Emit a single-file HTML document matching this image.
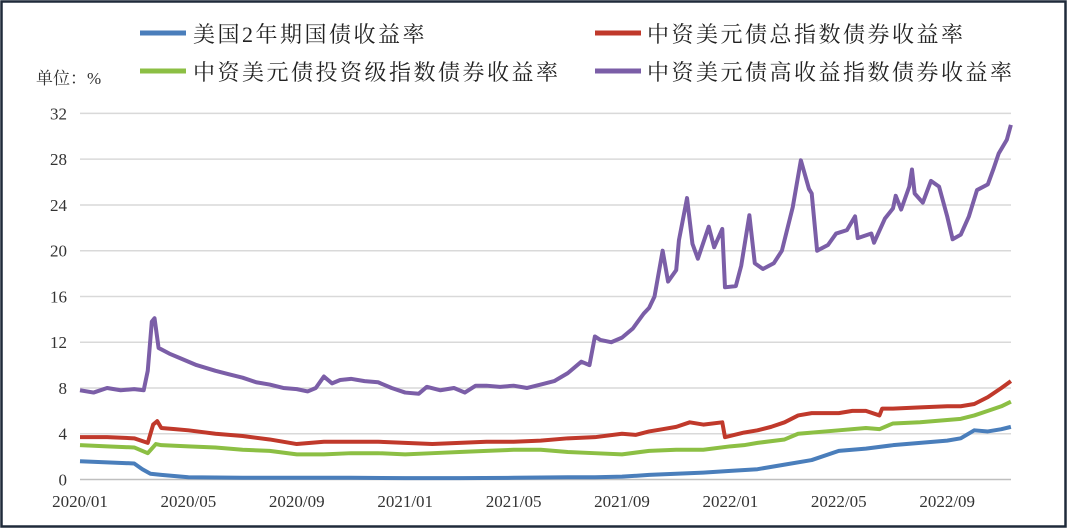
<!DOCTYPE html>
<html><head><meta charset="utf-8">
<style>
body{margin:0;background:#fff;}
svg{display:block;font-family:"Liberation Serif","Noto Serif CJK SC",serif;}
.lg{letter-spacing:2.5px;}
</style></head>
<body>
<svg id="chart" width="1068" height="529" viewBox="0 0 1068 529">
<rect x="1.5" y="1.5" width="1064" height="525" fill="#fff" stroke="#1f2a3a" stroke-width="2.5"/>
<g id="legend">
 <g><line x1="140" y1="33" x2="186" y2="33" stroke="#4a7ebb" stroke-width="5"/><text class="lg" x="193" y="42" font-size="22" fill="#222">美国2年期国债收益率</text></g>
 <g><line x1="595" y1="33" x2="641" y2="33" stroke="#c0392b" stroke-width="5"/><text class="lg" x="647" y="42" font-size="22" fill="#222">中资美元债总指数债券收益率</text></g>
 <g><line x1="140" y1="71" x2="186" y2="71" stroke="#8cbf44" stroke-width="5"/><text class="lg" x="193" y="80" font-size="22" fill="#222">中资美元债投资级指数债券收益率</text></g>
 <g><line x1="595" y1="71" x2="641" y2="71" stroke="#7b5ea7" stroke-width="5"/><text class="lg" x="647" y="80" font-size="22" fill="#222">中资美元债高收益指数债券收益率</text></g>
</g>
<text x="36" y="84" font-size="17" fill="#333">单位：%</text>
<g id="grid"></g><g id="yt"></g><g id="xt"></g><g id="series"></g>
</svg>
<script>
const yTicks=[0,4,8,12,16,20,24,28,32];
const xLabels=["2020/01","2020/05","2020/09","2021/01","2021/05","2021/09","2022/01","2022/05","2022/09"];
const xLabelMonths=[0,4,8,12,16,20,24,28,32];
const hyM=[0,.5,1,1.5,2,2.35,2.5,2.65,2.75,2.9,3.3,3.7,4.3,5,5.5,6,6.5,7,7.5,8,8.4,8.7,9,9.3,9.6,10,10.5,11,11.5,12,12.5,12.8,13.3,13.8,14.2,14.6,15,15.5,16,16.5,17,17.5,18,18.5,18.8,19,19.2,19.6,20,20.4,20.8,21,21.2,21.5,21.7,22,22.1,22.4,22.6,22.8,23.2,23.4,23.7,23.8,24.2,24.4,24.7,24.9,25.2,25.6,25.9,26.3,26.6,26.9,27,27.2,27.6,27.9,28.3,28.6,28.7,29.2,29.3,29.7,30,30.1,30.3,30.6,30.7,30.8,31.1,31.4,31.7,32,32.2,32.5,32.8,33.1,33.5,33.7,33.9,34.2,34.35];
const hyV=[7.8,7.6,8,7.8,7.9,7.8,9.5,13.8,14.1,11.5,11,10.6,10,9.5,9.2,8.9,8.5,8.3,8,7.9,7.7,8,9,8.4,8.7,8.8,8.6,8.5,8,7.6,7.5,8.1,7.8,8,7.6,8.2,8.2,8.1,8.2,8,8.3,8.6,9.3,10.3,10,12.5,12.2,12,12.4,13.2,14.5,15,16,20,17.3,18.3,20.9,24.6,20.6,19.3,22.1,20.3,21.9,16.8,16.9,18.7,23.1,18.9,18.4,18.9,20,23.8,27.9,25.4,25,20,20.5,21.5,21.8,23,21.1,21.5,20.7,22.8,23.7,24.8,23.6,25.6,27.1,25,24.2,26.1,25.6,23,21,21.4,23,25.3,25.8,27.1,28.5,29.7,31];
const totM=[0,1,2,2.5,2.7,2.85,3,3.5,4,5,6,7,8,9,10,11,12,13,14,15,16,17,18,19,20,20.5,21,21.5,22,22.5,23,23.7,23.8,24.5,25,25.5,26,26.5,27,28,28.5,29,29.5,29.6,30,31,32,32.5,33,33.5,34,34.35];
const totV=[3.7,3.7,3.6,3.2,4.8,5.1,4.5,4.4,4.3,4,3.8,3.5,3.1,3.3,3.3,3.3,3.2,3.1,3.2,3.3,3.3,3.4,3.6,3.7,4,3.9,4.2,4.4,4.6,5,4.8,5,3.7,4.1,4.3,4.6,5,5.6,5.8,5.8,6,6,5.6,6.2,6.2,6.3,6.4,6.4,6.6,7.2,8,8.6];
const igM=[0,1,2,2.5,2.8,3,4,5,6,7,8,9,10,11,12,13,14,15,16,17,18,19,20,21,22,23,24,24.5,25,26,26.5,27,28,29,29.5,30,31,32,32.5,33,33.5,34,34.35];
const igV=[3,2.9,2.8,2.3,3.1,3,2.9,2.8,2.6,2.5,2.2,2.2,2.3,2.3,2.2,2.3,2.4,2.5,2.6,2.6,2.4,2.3,2.2,2.5,2.6,2.6,2.9,3,3.2,3.5,4,4.1,4.3,4.5,4.4,4.9,5,5.2,5.3,5.6,6,6.4,6.8];
const usM=[0,1,2,2.3,2.6,3,4,6,8,10,12,14,16,18,19,20,21,22,23,24,25,26,27,28,29,30,31,32,32.5,33,33.5,34,34.35];
const usV=[1.6,1.5,1.4,0.9,0.5,0.4,0.2,0.15,0.15,0.15,0.12,0.12,0.15,0.2,0.2,0.25,0.4,0.5,0.6,0.75,0.9,1.3,1.7,2.5,2.7,3,3.2,3.4,3.6,4.3,4.2,4.4,4.6];
const X=m=>80+m*27.1, Y=v=>479.5-v*11.44;
const NS="http://www.w3.org/2000/svg";
const g=document.getElementById('grid'),yt=document.getElementById('yt'),xt=document.getElementById('xt'),sg=document.getElementById('series');
yTicks.forEach(v=>{
 const l=document.createElementNS(NS,'line');
 
 
 l.setAttribute('x1',80);l.setAttribute('x2',1011);l.setAttribute('y1',Y(v));l.setAttribute('y2',Y(v));
 l.setAttribute('stroke',v===0?'#bfbfbf':'#d9d9d9');l.setAttribute('stroke-width',1.5);g.appendChild(l);
 const t=document.createElementNS(NS,'text');
 
 
 t.setAttribute('x',67);t.setAttribute('y',Y(v)+6);t.setAttribute('text-anchor','end');t.setAttribute('font-size','17');t.setAttribute('fill','#333');t.textContent=v;yt.appendChild(t);
});
xLabels.forEach((s,i)=>{
 const t=document.createElementNS(NS,'text');
 
 
 t.setAttribute('x',X(xLabelMonths[i]));t.setAttribute('y',507);t.setAttribute('text-anchor','middle');t.setAttribute('font-size','17');t.setAttribute('fill','#333');t.textContent=s;xt.appendChild(t);
});
function line(ms,vs,c,name){
 const p=document.createElementNS(NS,'polyline');
 
 
 p.setAttribute('points',ms.map((m,i)=>X(m)+','+Y(vs[i])).join(' '));
 p.setAttribute('fill','none');p.setAttribute('stroke',c);p.setAttribute('stroke-width',4);p.setAttribute('stroke-linejoin','round');
 sg.appendChild(p);
}
line(usM,usV,'#4a7ebb','series-ust2y');
line(igM,igV,'#8cbf44','series-ig');
line(totM,totV,'#c0392b','series-total');
line(hyM,hyV,'#7b5ea7','series-hy');
</script>
</body></html>
